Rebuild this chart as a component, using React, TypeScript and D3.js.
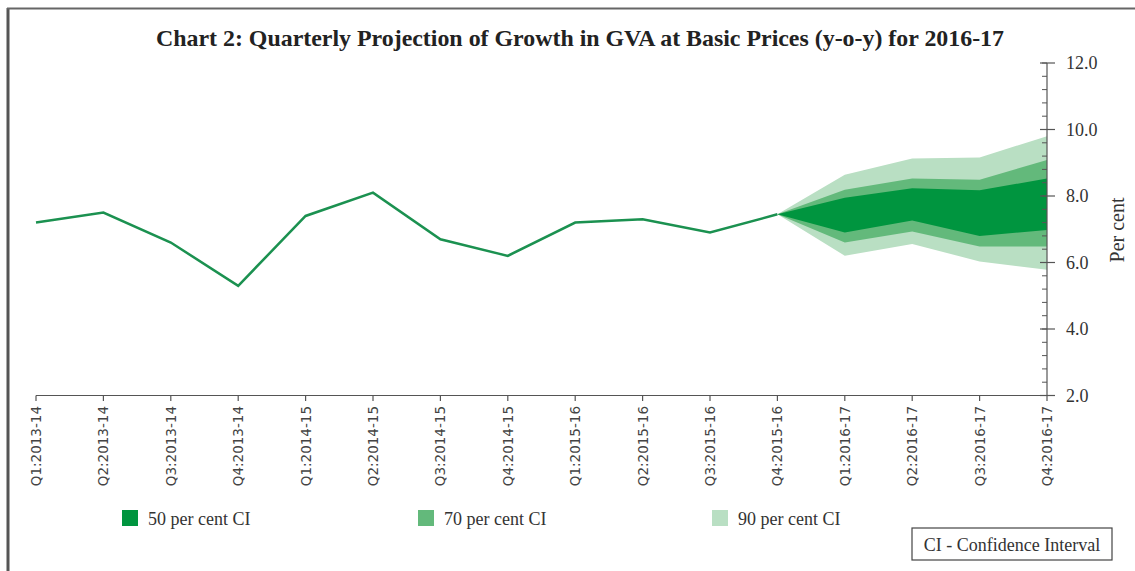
import React from "react";
import * as d3 from "d3";

const categories = [
  "Q1:2013-14", "Q2:2013-14", "Q3:2013-14", "Q4:2013-14",
  "Q1:2014-15", "Q2:2014-15", "Q3:2014-15", "Q4:2014-15",
  "Q1:2015-16", "Q2:2015-16", "Q3:2015-16", "Q4:2015-16",
  "Q1:2016-17", "Q2:2016-17", "Q3:2016-17", "Q4:2016-17",
];
const actual = [7.2, 7.5, 6.6, 5.3, 7.4, 8.1, 6.7, 6.2, 7.2, 7.3, 6.9, 7.45];
// fan from Q4:2015-16 to Q4:2016-17
const fanCats = ["Q4:2015-16", "Q1:2016-17", "Q2:2016-17", "Q3:2016-17", "Q4:2016-17"];
const upper90 = [7.45, 8.64, 9.13, 9.16, 9.8];
const upper70 = [7.45, 8.19, 8.53, 8.49, 9.08];
const upper50 = [7.45, 7.95, 8.23, 8.17, 8.53];
const lower50 = [7.45, 6.9, 7.26, 6.8, 6.98];
const lower70 = [7.45, 6.6, 6.93, 6.48, 6.48];
const lower90 = [7.45, 6.2, 6.56, 6.03, 5.78];
const yTicks = [2, 4, 6, 8, 10, 12];
const legendItems = ["50 per cent CI", "70 per cent CI", "90 per cent CI"];

const C50 = "#00953f";
const C70 = "#63b97b";
const C90 = "#b9dfc3";
const LINE = "#1b9150";
const AXIS = "#555";

export default function App() {
  const x = d3.scalePoint<string>().domain(categories).range([36, 1047]);
  const y = d3.scaleLinear().domain([2, 12]).range([395.5, 63]);

  const line = d3
    .line<number>()
    .x((_, i) => x(categories[i]) as number)
    .y((d) => y(d));

  const band = (lo: number[], hi: number[]) =>
    d3
      .area<number>()
      .x((_, i) => x(fanCats[i]) as number)
      .y0((_, i) => y(lo[i]))
      .y1((_, i) => y(hi[i]))(lo.map((_, i) => i)) as string;

  const minor = d3.range(2, 12.001, 0.4);
  const legendX = [122, 418, 712];
  const serif = "'Liberation Serif', 'Times New Roman', serif";

  return (
    <svg
      width={1135}
      height={571}
      style={{ position: "absolute", left: 0, top: 0, background: "#fff" }}
    >
      {/* frame */}
      <line x1={8} y1={8} x2={8} y2={571} stroke="#555" strokeWidth={3} />
      <line x1={7} y1={8.5} x2={1135} y2={8.5} stroke="#666" strokeWidth={2} />

      <text
        x={580}
        y={46}
        textAnchor="middle"
        fontFamily={serif}
        fontWeight="bold"
        fontSize={24}
        textLength={848}
        lengthAdjust="spacingAndGlyphs"
        fill="#222"
      >
        Chart 2: Quarterly Projection of Growth in GVA at Basic Prices (y-o-y) for 2016-17
      </text>

      {/* fan */}
      <path d={band(lower90, upper90)} fill={C90} />
      <path d={band(lower70, upper70)} fill={C70} />
      <path d={band(lower50, upper50)} fill={C50} />

      {/* actual line */}
      <path
        d={line(actual) as string}
        fill="none"
        stroke={LINE}
        strokeWidth={2.5}
        strokeLinejoin="miter"
      />

      {/* x axis */}
      <line x1={36} y1={395.5} x2={1047} y2={395.5} stroke={AXIS} strokeWidth={1.2} />
      {categories.map((c) => (
        <g key={c} transform={`translate(${x(c)},0)`}>
          <line y1={395.5} y2={401} stroke={AXIS} strokeWidth={1.2} />
          <text
            transform="translate(5,406) rotate(-90)"
            textAnchor="end"
            fontFamily="'DejaVu Sans', sans-serif"
            fontSize={13.5}
            fill="#444"
          >
            {c}
          </text>
        </g>
      ))}

      {/* y axis */}
      <line x1={1047} y1={63} x2={1047} y2={395.5} stroke={AXIS} strokeWidth={1.2} />
      {minor.map((v, i) => (
        <line key={i} x1={1042} x2={1047} y1={y(v)} y2={y(v)} stroke={AXIS} strokeWidth={1} />
      ))}
      {yTicks.map((t) => (
        <g key={t}>
          <line x1={1040} x2={1055} y1={y(t)} y2={y(t)} stroke={AXIS} strokeWidth={1.2} />
          <text
            x={1066}
            y={y(t) + 6}
            fontFamily={serif}
            fontSize={18}
            fill="#333"
          >
            {d3.format(".1f")(t)}
          </text>
        </g>
      ))}
      <text
        transform="translate(1124,230) rotate(-90)"
        textAnchor="middle"
        fontFamily={serif}
        fontSize={20}
        fill="#333"
      >
        Per cent
      </text>

      {/* legend */}
      {legendItems.map((l, i) => (
        <g key={l}>
          <rect
            x={legendX[i]}
            y={510}
            width={16}
            height={16}
            fill={[C50, C70, C90][i]}
          />
          <text
            x={legendX[i] + 26}
            y={525}
            fontFamily={serif}
            fontSize={18}
            fill="#333"
          >
            {l}
          </text>
        </g>
      ))}

      <rect x={912} y={528} width={200} height={32} fill="none" stroke="#444" strokeWidth={1.2} />
      <text
        x={1012}
        y={551}
        textAnchor="middle"
        fontFamily={serif}
        fontSize={18}
        fill="#333"
      >
        CI - Confidence Interval
      </text>
    </svg>
  );
}
